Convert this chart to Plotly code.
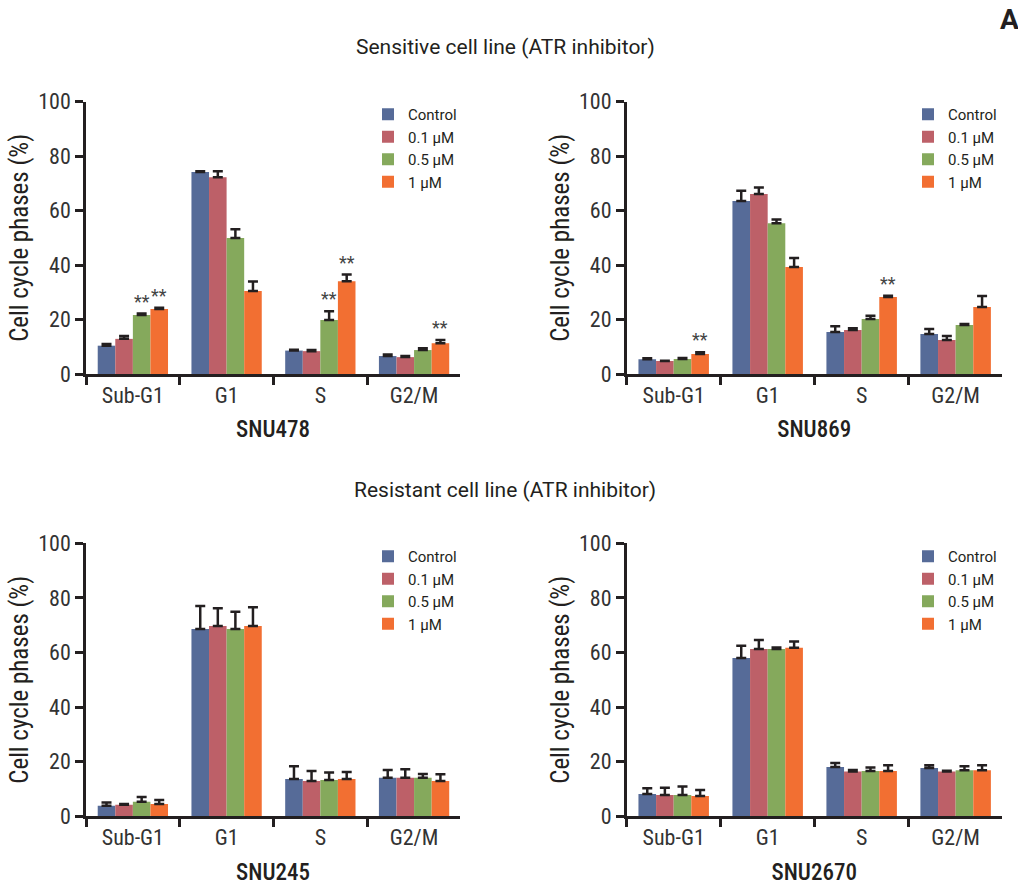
import plotly.graph_objects as go

categories = ["Sub-G1", "G1", "S", "G2/M"]
doses = ["Control", "0.1 μM", "0.5 μM", "1 μM"]
colors = ["#566b98", "#bd6068", "#85a95c", "#f26f32"]

# SNU478 (sensitive)
snu478_vals = {
    "Control": [10.4, 74.2, 8.6, 6.6],
    "0.1 μM": [12.9, 72.3, 8.4, 6.2],
    "0.5 μM": [21.7, 49.9, 19.8, 8.8],
    "1 μM": [23.9, 30.5, 34.1, 11.3],
}
snu478_err = {
    "Control": [0.6, 0.3, 0.3, 0.6],
    "0.1 μM": [1.1, 2.2, 0.4, 0.4],
    "0.5 μM": [0.5, 3.3, 3.2, 0.7],
    "1 μM": [0.4, 3.5, 2.4, 1.2],
}
snu478_stars = [("Sub-G1", "0.5 μM"), ("Sub-G1", "1 μM"), ("S", "0.5 μM"), ("S", "1 μM"), ("G2/M", "1 μM")]

# SNU869 (sensitive)
snu869_vals = {
    "Control": [5.4, 63.5, 15.4, 14.7],
    "0.1 μM": [4.8, 66.1, 16.2, 12.5],
    "0.5 μM": [5.5, 55.4, 20.2, 18.0],
    "1 μM": [7.3, 39.3, 28.3, 24.6],
}
snu869_err = {
    "Control": [0.4, 3.8, 2.1, 1.8],
    "0.1 μM": [0.1, 2.4, 0.6, 1.5],
    "0.5 μM": [0.4, 1.3, 1.2, 0.4],
    "1 μM": [0.7, 3.3, 0.4, 4.0],
}
snu869_stars = [("Sub-G1", "1 μM"), ("S", "1 μM")]

# SNU245 (resistant)
snu245_vals = {
    "Control": [3.9, 68.6, 13.7, 14.1],
    "0.1 μM": [4.2, 69.7, 12.9, 14.1],
    "0.5 μM": [5.3, 68.6, 13.3, 14.1],
    "1 μM": [4.5, 69.7, 13.7, 12.9],
}
snu245_err = {
    "Control": [1.2, 8.4, 4.6, 2.9],
    "0.1 μM": [0.3, 6.5, 3.7, 3.1],
    "0.5 μM": [1.8, 6.3, 2.7, 1.4],
    "1 μM": [1.5, 6.9, 2.5, 2.5],
}

# SNU2670 (resistant)
snu2670_vals = {
    "Control": [8.2, 58.0, 18.1, 17.7],
    "0.1 μM": [7.8, 61.3, 16.4, 16.4],
    "0.5 μM": [7.8, 61.3, 16.6, 16.9],
    "1 μM": [7.4, 61.7, 16.6, 16.9],
}
snu2670_err = {
    "Control": [2.1, 4.5, 1.4, 1.0],
    "0.1 μM": [2.7, 3.3, 0.6, 0.3],
    "0.5 μM": [3.1, 0.5, 1.3, 1.4],
    "1 μM": [2.2, 2.3, 2.1, 1.8],
}

y_ticks = [0, 20, 40, 60, 80, 100]

COND = "Roboto Condensed, Liberation Sans Narrow, Roboto, sans-serif"
WIDE = "Roboto, sans-serif"
INK = "#231f20"
W, H = 1018, 886

panels = [
    dict(name="SNU478", vals=snu478_vals, err=snu478_err, stars=snu478_stars,
         x=(86, 460), y=(101.7, 374), leg=(368, 98), standoff=14),
    dict(name="SNU869", vals=snu869_vals, err=snu869_err, stars=snu869_stars,
         x=(626.7, 1001.7), y=(101.7, 374), leg=(908, 98), standoff=14),
    dict(name="SNU245", vals=snu245_vals, err=snu245_err, stars=[],
         x=(86, 460), y=(543.3, 816.3), leg=(368, 540), standoff=20),
    dict(name="SNU2670", vals=snu2670_vals, err=snu2670_err, stars=[],
         x=(626.7, 1001.7), y=(543.3, 816.3), leg=(908, 540), standoff=20),
]

fig = go.Figure()
layout = dict(
    width=W, height=H,
    margin=dict(l=0, r=0, t=0, b=0, autoexpand=False),
    paper_bgcolor="white", plot_bgcolor="white",
    barmode="group", bargap=0.25, bargroupgap=0,
    font=dict(family=COND, color=INK, size=20),
    annotations=[],
)

group_w = 0.75
bar_w = group_w / len(doses)

for i, p in enumerate(panels):
    sfx = "" if i == 0 else str(i + 1)
    xa, ya = "x" + sfx, "y" + sfx
    leg = "legend" + sfx
    for d, c in zip(doses, colors):
        fig.add_trace(go.Bar(
            x=categories, y=p["vals"][d], name=d,
            marker=dict(color=c, line=dict(width=0)),
            error_y=dict(type="data", array=p["err"][d], arrayminus=[0] * 4,
                         symmetric=False, color=INK, thickness=2.5, width=5),
            xaxis=xa, yaxis=ya, legend=leg, showlegend=True,
        ))
    x0, x1 = p["x"]
    ytop, ybot = p["y"]
    layout["xaxis" + sfx] = dict(
        domain=[x0 / W, x1 / W], anchor=ya, type="category", automargin=False,
        categoryorder="array", categoryarray=categories, range=[-0.5, 3.49],
        showline=True, linecolor=INK, linewidth=2.5,
        ticks="outside", tickson="boundaries", ticklen=8, tickwidth=2.5, tickcolor=INK,
        tickfont=dict(size=22, color="#333333"), showgrid=False, zeroline=False,
        title=dict(text=p["name"], font=dict(size=23, color=INK, weight=500), standoff=p["standoff"]),
    )
    layout["yaxis" + sfx] = dict(
        domain=[1 - ybot / H, 1 - ytop / H], anchor=xa, range=[0, 100], automargin=False,
        tickvals=y_ticks, showline=True, linecolor=INK, linewidth=2.5,
        ticks="outside", ticklen=8, tickwidth=2.5, tickcolor=INK,
        tickfont=dict(size=22, color="#333333"), showgrid=False, zeroline=False,
        title=dict(text="Cell cycle phases (%)", font=dict(size=25, color=INK), standoff=3),
    )
    lx, ly = p["leg"]
    layout[leg] = dict(
        x=lx / W, y=1 - ly / H, xanchor="left", yanchor="top",
        font=dict(size=15, color=INK, family=WIDE), itemwidth=30, tracegroupgap=0,
        bgcolor="rgba(0,0,0,0)", traceorder="normal",
    )
    for cat, d in p["stars"]:
        ci = categories.index(cat)
        di = doses.index(d)
        xpos = ci - group_w / 2 + bar_w * (di + 0.5)
        top = p["vals"][d][ci] + p["err"][d][ci]
        layout["annotations"].append(dict(
            x=xpos, y=top, xref=xa, yref=ya, text="**", showarrow=False,
            xanchor="center", yanchor="bottom", yshift=0,
            font=dict(size=18, color="#444444", family=WIDE),
        ))

layout["annotations"] += [
    dict(x=505 / W, y=1 - 47 / H, xref="paper", yref="paper", text="Sensitive cell line (ATR inhibitor)",
         xanchor="center", yanchor="middle", showarrow=False, font=dict(size=21, color=INK, family=WIDE)),
    dict(x=505 / W, y=1 - 490 / H, xref="paper", yref="paper", text="Resistant cell line (ATR inhibitor)",
         xanchor="center", yanchor="middle", showarrow=False, font=dict(size=21, color=INK, family=WIDE)),
    dict(x=1.0, y=1 - 20 / H, xref="paper", yref="paper", text="<b>A</b>", xanchor="right", yanchor="middle",
         xshift=3, showarrow=False, font=dict(size=28, color=INK, family=WIDE)),
]

fig.update_layout(**layout)
fig.write_html("out.html", config={"displayModeBar": False},
               post_script="document.body.style.margin='0';")
